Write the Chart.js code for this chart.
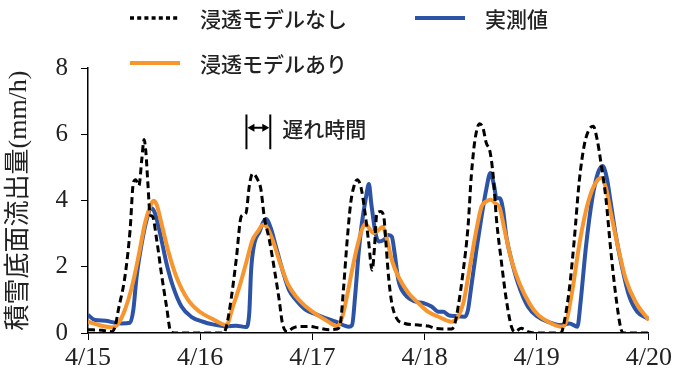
<!DOCTYPE html>
<html>
<head>
<meta charset="utf-8">
<script src="https://cdn.jsdelivr.net/npm/chart.js@4.4.0/dist/chart.umd.min.js"></script>
<style>
  html, body { margin: 0; padding: 0; background: #fff; }
  canvas { display: block; }
</style>
</head>
<body>
<canvas id="c" width="675" height="380"></canvas>
<script>
// Day labels on the time axis (one tick every 24 h from 4/15 0:00)
const dayLabels = ['4/15', '4/16', '4/17', '4/18', '4/19', '4/20'];

// 浸透モデルなし : hours since 4/15 0:00 and outflow (mm/h)
const hoursNoInfil = [0, 3, 5.1, 5.8, 6.5, 7.9, 9.0, 9.7, 10.2, 10.9, 11.5, 12.0, 12.4, 12.8, 13.3, 13.8, 14.7, 15.7, 16.8, 17.7, 18.5, 24, 29.0, 29.6, 30.6, 31.7, 32.8, 33.8, 34.5, 35.2, 36.3, 37.0, 37.7, 38.8, 39.9, 40.9, 41.6, 42.7, 43.7, 45.2, 47.3, 49.4, 51.6, 53.3, 54.0, 54.7, 55.4, 56.2, 56.9, 57.6, 58.4, 59.2, 60.0, 60.8, 61.3, 61.8, 62.6, 63.3, 63.7, 64.3, 65.0, 66.0, 67.5, 70.7, 72.8, 74.3, 77.8, 78.5, 79.2, 80.3, 81.3, 82.0, 82.8, 83.8, 84.5, 85.2, 86.0, 86.7, 87.4, 88.4, 89.5, 90.6, 91.3, 92.7, 94.1, 96, 101.2, 101.9, 103, 104, 105.1, 106.2, 107.2, 108.1, 109, 109.7, 110.8, 111.8, 112.9, 114, 114.6, 120];
const noInfil = [0.1, 0.08, 0.04, 0.19, 0.7, 1.7, 3.1, 4.53, 4.63, 4.45, 5.23, 5.84, 5.43, 4.53, 3.57, 3.52, 2.81, 1.8, 0.8, 0.04, 0, 0, 0, 0.19, 1.0, 2.2, 3.52, 3.62, 4.43, 4.81, 4.63, 4.33, 3.52, 2.81, 1.9, 1.0, 0.29, 0.04, 0.14, 0.2, 0.2, 0.15, 0.1, 0.12, 0.29, 1.4, 2.71, 3.92, 4.43, 4.63, 4.4, 3.7, 2.8, 1.9, 2.6, 3.62, 3.67, 3.5, 2.8, 1.7, 0.9, 0.45, 0.3, 0.24, 0.21, 0.14, 0.12, 0.29, 0.8, 1.9, 3.2, 4.73, 5.84, 6.32, 6.19, 5.74, 5.48, 4.73, 3.42, 2.2, 1.0, 0.19, 0.04, 0.14, 0.04, 0, 0, 0.34, 1.35, 2.76, 4.58, 5.69, 6.14, 6.24, 5.79, 5.18, 4.07, 2.56, 1.15, 0.14, 0, 0];

// 浸透モデルあり
const hoursWithInfil = [0, 2.3, 5.4, 6.5, 7.9, 9.4, 10.8, 12.2, 13.3, 14.0, 14.7, 15.7, 17.1, 18.9, 21.4, 23.9, 26.7, 29.6, 31.0, 32.4, 33.8, 35.2, 36.3, 37.5, 38.4, 39.5, 40.9, 42.7, 44.5, 46.6, 49.1, 51, 53.3, 54.4, 55.4, 56.5, 57.6, 58.6, 59.4, 60.1, 61.1, 61.8, 63.0, 64.0, 65.0, 66.4, 68.6, 70.7, 72.8, 75, 77.8, 78.9, 80.3, 81.7, 83.1, 84.2, 85.2, 86.2, 87.1, 88.1, 89.1, 90.6, 92.3, 94.5, 96.2, 99.1, 101.2, 102.3, 103.7, 105.1, 106.5, 107.9, 109.1, 109.8, 110.8, 111.8, 113.3, 115, 117.1, 120];
const withInfil = [0.34, 0.24, 0.17, 0.29, 0.7, 1.4, 2.31, 3.32, 3.82, 3.99, 3.87, 3.32, 2.51, 1.7, 1.0, 0.64, 0.42, 0.24, 0.8, 1.4, 2.1, 2.81, 3.06, 3.27, 3.17, 2.81, 2.2, 1.5, 1.1, 0.8, 0.54, 0.38, 0.21, 0.49, 1.1, 1.9, 2.61, 3.12, 3.3, 3.17, 3.02, 3.06, 3.2, 2.81, 2.2, 1.7, 1.2, 0.9, 0.64, 0.49, 0.34, 0.44, 0.9, 2.0, 3.12, 3.82, 3.97, 4.02, 3.92, 3.77, 3.12, 2.2, 1.5, 0.88, 0.56, 0.29, 0.19, 0.34, 1.35, 2.66, 3.67, 4.33, 4.63, 4.68, 4.38, 3.67, 2.66, 1.65, 0.95, 0.38];

// 実測値
const hoursObserved = [0, 1.5, 3.7, 5.8, 7.2, 9.0, 9.7, 10.4, 11.5, 12.55, 13.5, 14.3, 15.4, 16.8, 18.2, 20, 22.1, 24.6, 26.7, 29.6, 31.7, 33.8, 34.5, 34.9, 35.6, 36.7, 37.4, 38.1, 39.1, 40.2, 41.6, 43.0, 44.5, 46.6, 48.7, 50.1, 53.0, 55.8, 56.5, 57.2, 57.9, 58.6, 59.5, 60.1, 60.6, 61.5, 62.2, 63.3, 64.3, 65.0, 65.6, 66.4, 67.9, 70.0, 71.8, 73.5, 75, 76, 77.1, 78.5, 80.6, 81.3, 82, 83.1, 84.2, 85.2, 86.1, 86.9, 87.4, 88.1, 88.8, 89.5, 90.6, 92, 94.1, 96.2, 98.4, 101.2, 103, 104.7, 105.4, 106.5, 107.9, 109.1, 110.1, 111, 111.8, 112.9, 114.3, 115.7, 117.5, 120];
const observed = [0.55, 0.39, 0.37, 0.31, 0.29, 0.31, 0.7, 1.7, 2.71, 3.42, 3.77, 3.62, 3.02, 2.1, 1.4, 0.8, 0.49, 0.34, 0.26, 0.2, 0.22, 0.18, 0.6, 1.9, 2.71, 3.06, 3.32, 3.44, 3.17, 2.61, 1.9, 1.3, 1.0, 0.7, 0.57, 0.49, 0.34, 0.19, 0.24, 1.2, 2.41, 3.32, 4.12, 4.5, 3.92, 3.02, 2.76, 2.81, 2.96, 2.91, 2.41, 1.6, 1.15, 0.95, 0.9, 0.8, 0.64, 0.64, 0.54, 0.51, 0.49, 0.7, 1.4, 2.51, 3.52, 4.33, 4.83, 4.43, 4.07, 4.07, 3.72, 2.91, 2.2, 1.5, 0.8, 0.49, 0.34, 0.24, 0.29, 0.19, 0.95, 2.56, 4.07, 4.83, 5.04, 4.68, 3.97, 2.96, 1.96, 1.15, 0.64, 0.42];

// Lag-time marker (hours) and its vertical extent (mm/h)
const lagMarker = { from: 33.9, to: 39.0, yTop: 6.6, yBottom: 5.55, yArrow: 6.2, text: '遅れ時間' };

const toPoints = (xs, ys) => xs.map((x, i) => ({ x, y: ys[i] }));

const BLACK = '#000000';
const ORANGE = '#F7962F';
const BLUE = '#2C53A5';
const TEXT = '#222222';
const FONT_MIX = "'Liberation Serif', 'Noto Sans CJK JP', serif";
const FONT_JP = "'Noto Sans CJK JP', sans-serif";

const legendItems = [
  { label: '浸透モデルなし', color: BLACK, dash: [4, 3.2], width: 3.5, x: 130, y: 18 },
  { label: '実測値', color: BLUE, dash: [], width: 4, x: 415, y: 18 },
  { label: '浸透モデルあり', color: ORANGE, dash: [], width: 4, x: 130, y: 63 }
];

const overlayPlugin = {
  id: 'overlay',
  afterDraw(chart) {
    const ctx = chart.ctx;
    ctx.save();
    // legend
    legendItems.forEach(it => {
      ctx.beginPath();
      ctx.setLineDash(it.dash);
      ctx.lineCap = 'butt';
      ctx.lineWidth = it.width;
      ctx.strokeStyle = it.color;
      ctx.moveTo(it.x, it.y);
      ctx.lineTo(it.x + 50, it.y);
      ctx.stroke();
      ctx.setLineDash([]);
      ctx.fillStyle = TEXT;
      ctx.font = '500 21px ' + FONT_JP;
      ctx.textBaseline = 'middle';
      ctx.textAlign = 'left';
      ctx.fillText(it.label, it.x + 70, it.y + 1);
    });

    // lag-time marker
    const xs = chart.scales.x, ys = chart.scales.y;
    const x1 = xs.getPixelForValue(lagMarker.from);
    const x2 = xs.getPixelForValue(lagMarker.to);
    const yt = ys.getPixelForValue(lagMarker.yTop);
    const yb = ys.getPixelForValue(lagMarker.yBottom);
    const ya = ys.getPixelForValue(lagMarker.yArrow);
    ctx.strokeStyle = '#000';
    ctx.fillStyle = '#000';
    ctx.lineWidth = 2;
    ctx.beginPath();
    ctx.moveTo(x1, yt); ctx.lineTo(x1, yb);
    ctx.moveTo(x2, yt); ctx.lineTo(x2, yb);
    ctx.moveTo(x1 + 5, ya); ctx.lineTo(x2 - 5, ya);
    ctx.stroke();
    const head = (xp, dir) => {
      ctx.beginPath();
      ctx.moveTo(xp, ya);
      ctx.lineTo(xp + dir * 7, ya - 4);
      ctx.lineTo(xp + dir * 7, ya + 4);
      ctx.closePath();
      ctx.fill();
    };
    head(x1 + 1, 1);
    head(x2 - 1, -1);
    ctx.fillStyle = TEXT;
    ctx.font = '500 21px ' + FONT_JP;
    ctx.textBaseline = 'middle';
    ctx.textAlign = 'left';
    ctx.fillText(lagMarker.text, x2 + 12, ya + 1);
    ctx.restore();
  }
};

new Chart(document.getElementById('c'), {
  type: 'line',
  data: {
    datasets: [
      {
        label: '浸透モデルなし',
        data: toPoints(hoursNoInfil, noInfil),
        borderColor: BLACK,
        borderWidth: 3,
        borderDash: [7, 4],
        cubicInterpolationMode: 'monotone',
        pointRadius: 0,
        fill: false
      },
      {
        label: '浸透モデルあり',
        data: toPoints(hoursWithInfil, withInfil),
        borderColor: ORANGE,
        borderWidth: 4,
        cubicInterpolationMode: 'monotone',
        pointRadius: 0,
        fill: false
      },
      {
        label: '実測値',
        data: toPoints(hoursObserved, observed),
        borderColor: BLUE,
        borderWidth: 4,
        cubicInterpolationMode: 'monotone',
        pointRadius: 0,
        fill: false
      }
    ]
  },
  options: {
    responsive: false,
    animation: false,
    devicePixelRatio: 1,
    layout: { padding: { top: 68, right: 23, left: 0, bottom: 0 } },
    plugins: {
      legend: { display: false },
      tooltip: { enabled: false }
    },
    scales: {
      x: {
        type: 'linear',
        min: 0,
        max: 120,
        afterFit: s => { s.height = 47; },
        afterBuildTicks: s => { s.ticks = dayLabels.map((_, i) => ({ value: i * 24 })); },
        ticks: {
          callback: v => dayLabels[Math.round(v / 24)],
          color: TEXT,
          font: { family: FONT_MIX, size: 26 },
          padding: 3,
          maxRotation: 0,
          autoSkip: false
        },
        grid: { drawOnChartArea: false, drawTicks: true, tickLength: 7, color: '#000', lineWidth: 1 },
        border: { color: '#000', width: 1.5 }
      },
      y: {
        min: 0,
        max: 8,
        afterFit: s => { s.width = 88; },
        ticks: {
          stepSize: 2,
          color: TEXT,
          font: { family: FONT_MIX, size: 25 },
          padding: 13
        },
        title: {
          display: true,
          text: '積雪底面流出量(mm/h)',
          color: TEXT,
          font: { family: FONT_MIX, size: 26 },
          padding: { top: 4, bottom: 0 }
        },
        grid: { drawOnChartArea: false, drawTicks: true, tickLength: 7, color: '#000', lineWidth: 1 },
        border: { color: '#000', width: 1.5 }
      }
    }
  },
  plugins: [overlayPlugin]
});
</script>
</body>
</html>
